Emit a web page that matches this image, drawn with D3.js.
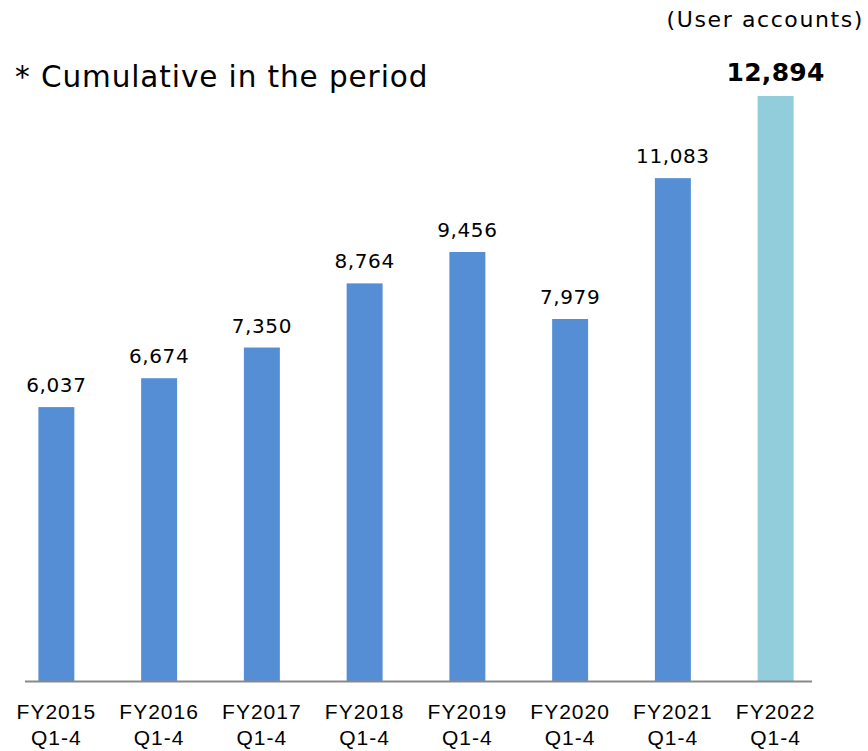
<!DOCTYPE html>
<html>
<head>
<meta charset="utf-8">
<script src="https://cdn.jsdelivr.net/npm/d3@7"></script>
<style>
  html, body { margin: 0; padding: 0; background: #fff; }
  svg { display: block; font-family: "DejaVu Sans", Verdana, sans-serif; }
</style>
</head>
<body>
<svg id="chart" width="868" height="751"></svg>
<script>
// Cumulative user accounts per fiscal year (Q1-4)
const years = ["FY2015", "FY2016", "FY2017", "FY2018", "FY2019", "FY2020", "FY2021", "FY2022"];
const period = ["Q1-4", "Q1-4", "Q1-4", "Q1-4", "Q1-4", "Q1-4", "Q1-4", "Q1-4"];
const accounts = [6037, 6674, 7350, 8764, 9456, 7979, 11083, 12894];
const highlightIndex = 7;

const svg = d3.select("#chart");
const fmt = d3.format(",");

const x = d3.scaleBand()
  .domain(years)
  .range([5, 827])
  .paddingInner(0.65)
  .paddingOuter(0.325);

const y = d3.scaleLinear()
  .domain([0, 12894])
  .range([681, 96]);

// Bars
svg.append("g")
  .selectAll("rect")
  .data(accounts)
  .join("rect")
  .attr("x", (d, i) => x(years[i]))
  .attr("y", d => y(d))
  .attr("width", x.bandwidth())
  .attr("height", d => y(0) - y(d))
  .attr("fill", (d, i) => i === highlightIndex ? "#92CDDC" : "#558ED5");

// Value labels
svg.append("g")
  .selectAll("text")
  .data(accounts)
  .join("text")
  .attr("x", (d, i) => x(years[i]) + x.bandwidth() / 2)
  .attr("y", d => y(d) - 15)
  .attr("text-anchor", "middle")
  .attr("font-size", (d, i) => i === highlightIndex ? 25 : 20)
  .attr("font-weight", (d, i) => i === highlightIndex ? "bold" : "normal")
  .attr("letter-spacing", (d, i) => i === highlightIndex ? 0.3 : 0.6)
  .attr("fill", "#000")
  .text(d => fmt(d));

// Baseline
svg.append("line")
  .attr("x1", 25).attr("x2", 812)
  .attr("y1", y(0) + 0.5).attr("y2", y(0) + 0.5)
  .attr("stroke", "#898989")
  .attr("stroke-width", 2);

// Category labels (two lines)
const xAxis = d3.axisBottom(x).tickSize(0).tickPadding(0);
const gx = svg.append("g").attr("transform", `translate(0,${y(0)})`).call(xAxis);
gx.select(".domain").remove();
gx.selectAll(".tick text").remove();
gx.selectAll(".tick").each(function(d, i) {
  const t = d3.select(this).append("text")
    .attr("text-anchor", "middle")
    .attr("font-size", 21)
    .attr("letter-spacing", 1)
    .attr("fill", "#000");
  t.append("tspan").attr("x", 0).attr("y", 38).text(d);
  t.append("tspan").attr("x", 0).attr("y", 64).text(period[i]);
});

// Annotations
svg.append("text")
  .attr("x", 15).attr("y", 87)
  .attr("font-size", 29.5)
  .attr("letter-spacing", 0.9)
  .attr("fill", "#000")
  .text("* Cumulative in the period");

svg.append("text")
  .attr("x", 864).attr("y", 27)
  .attr("text-anchor", "end")
  .attr("font-size", 22)
  .attr("letter-spacing", 1.6)
  .attr("fill", "#000")
  .text("(User accounts)");
</script>
</body>
</html>
